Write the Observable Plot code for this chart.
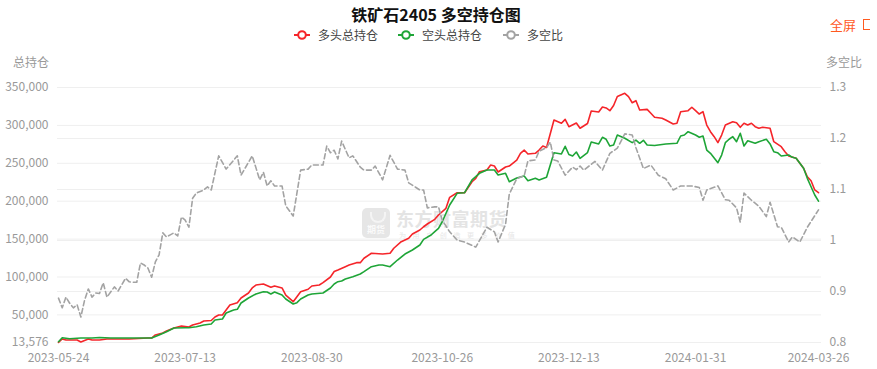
<!DOCTYPE html>
<html><head><meta charset="utf-8">
<script src="https://cdn.jsdelivr.net/npm/d3@7"></script>
<script src="https://cdn.jsdelivr.net/npm/@observablehq/plot@0.6"></script>
<style>
body{margin:0;background:#fff;font-family:"Microsoft YaHei","Noto Sans CJK SC",sans-serif;}
#wrap{position:relative;width:877px;height:369px;overflow:hidden;}
#chart{position:absolute;left:0;top:0;}
.t{position:absolute;white-space:nowrap;line-height:1;}
.c{transform:translate(-50%,-50%);}
.v{transform:translateY(-50%);}
.leg{display:flex;align-items:center;}
</style></head><body>
<div id="wrap">
  <div class="t" style="left:362px;top:208px;width:28px;height:30px;background:#e6e6e6;border-radius:5px;">
    <div style="position:absolute;left:8px;top:4px;width:12px;height:9px;border:2px solid #f4f4f4;border-top:none;border-radius:0 0 8px 8px;"></div>
    <div style="position:absolute;left:0;width:28px;top:17px;text-align:center;font-size:9px;color:#fafafa;font-weight:bold;">期货</div>
  </div>
  <div class="t v" style="left:396px;top:218px;font-size:18px;font-weight:bold;color:#e4e4e4;letter-spacing:0.5px;">东方财富期货</div>
  <div class="t v" style="left:399px;top:235px;font-size:7px;color:#e6e6e6;letter-spacing:6.6px;">为用户创造更多价值</div>
  <div id="chart"></div>
  <div class="t c" style="left:436px;top:14px;font-size:16px;font-weight:bold;color:#111;">铁矿石2405 多空持仓图</div>
  <div class="t v leg" style="left:294px;top:35px;font-size:12px;color:#444;" id="legend"></div>
  <div class="t v" style="left:830px;top:24px;font-size:13px;color:#ff5a1f;">全屏</div>
  <div class="t" style="left:863px;top:19px;width:6px;height:9px;border:1.5px solid #ff5a1f;border-right:none;"></div>
  <div class="t v" style="left:13px;top:62px;font-size:12px;color:#999;">总持仓</div>
  <div class="t v" style="left:826px;top:62px;font-size:12px;color:#999;">多空比</div>
</div>
<script>
// ---- data (day index = trading day since 2023-05-24) ----
const tickDays = [0, 34, 68, 103, 137, 171, 204];
const tickLabels = ["2023-05-24","2023-07-13","2023-08-30","2023-10-26","2023-12-13","2024-01-31","2024-03-26"];
const leftTicks = [13576, 50000, 100000, 150000, 200000, 250000, 300000, 350000];
const ratioTicks = [0.8, 0.9, 1.0, 1.1, 1.2, 1.3];
const seriesNames = ["多头总持仓", "空头总持仓", "多空比"];

const longPts = [[0,13576],[1,18200],[2,16900],[5,16900],[6,14200],[8,18200],[9,16900],[11,16900],[13,18200],[19,18200],[24,19500],[25,19500],[26,23500],[28,26100],[29,28700],[31,32700],[32,34000],[33,35300],[35,34000],[36,36700],[38,39300],[39,41900],[41,42600],[42,47200],[43,49900],[44,49900],[45,56500],[46,63000],[48,66100],[49,72300],[51,78900],[52,85500],[53,89400],[55,90800],[57,86400],[58,88100],[60,85500],[61,76200],[63,67400],[64,74000],[65,80600],[67,83800],[68,88100],[70,89400],[71,92500],[73,100000],[74,107200],[75,109200],[77,113600],[78,115800],[80,118900],[81,118900],[82,124700],[84,131300],[87,130300],[89,131300],[90,137900],[92,146600],[94,151000],[95,156700],[97,162000],[98,166300],[99,169900],[101,176100],[102,181800],[104,190600],[105,205100],[107,211200],[109,211200],[111,225700],[112,230200],[113,238900],[115,241200],[116,247800],[117,246400],[118,238500],[120,245100],[121,246400],[123,254300],[124,263200],[125,267500],[126,262300],[128,263200],[129,267500],[130,272800],[131,270800],[133,307100],[135,302800],[136,308000],[137,298300],[139,303200],[140,296200],[142,302500],[143,319000],[145,317700],[146,324300],[147,323000],[148,319400],[149,326200],[150,338100],[152,342300],[153,337900],[154,329900],[155,332600],[156,320300],[158,321200],[159,316000],[160,310700],[162,309400],[163,307100],[165,301800],[166,302800],[167,318100],[169,319400],[170,323900],[171,319400],[172,315000],[173,318100],[174,300500],[175,291700],[176,285100],[177,277200],[178,287300],[179,300500],[181,304900],[182,303600],[183,297500],[184,302800],[185,300500],[186,302800],[187,298300],[188,296200],[189,297500],[191,296200],[192,278500],[194,271900],[195,265300],[196,259600],[198,256600],[200,243400],[201,232300],[202,227000],[203,214800],[204,211200]];

const shortPts = [[0,14600],[1,19900],[3,18600],[6,19500],[9,19500],[11,20200],[14,19500],[19,19500],[25,19500],[27,23500],[29,27800],[31,32700],[34,33100],[35,33100],[37,34400],[39,36700],[41,38000],[42,43300],[44,44600],[45,52500],[47,56500],[48,57400],[49,65700],[51,72300],[53,77600],[55,80600],[56,80200],[57,77600],[58,80200],[60,76200],[61,71000],[63,64400],[64,66100],[65,71000],[67,76200],[68,77600],[71,78900],[73,85500],[74,90800],[75,93800],[76,94700],[77,97400],[79,100400],[81,103900],[82,107000],[84,113600],[86,115800],[87,115800],[89,113600],[91,122400],[93,130300],[95,135600],[97,142200],[98,149700],[100,155400],[101,159800],[102,164200],[103,172900],[105,195000],[107,210400],[109,211200],[111,228000],[112,232300],[113,236800],[115,241200],[117,241200],[118,234600],[120,236800],[121,225700],[123,230600],[125,233200],[126,227000],[128,230200],[129,228000],[131,231500],[133,264000],[135,262300],[136,272400],[137,261600],[138,259600],[139,264900],[140,256600],[142,264200],[143,278100],[145,275500],[146,284300],[147,281700],[148,272800],[149,274100],[150,287300],[152,283000],[154,277200],[155,280700],[156,276400],[157,280300],[158,274100],[160,273500],[163,275500],[166,276400],[167,286000],[168,287300],[169,291700],[171,287300],[172,284300],[173,286000],[174,267500],[175,263200],[177,250800],[178,260900],[179,277200],[180,281700],[181,285100],[182,278500],[183,289600],[184,272800],[185,279800],[187,276400],[188,278500],[190,281700],[191,275500],[192,265300],[193,264000],[194,259600],[196,260900],[197,257900],[198,256600],[200,243400],[201,230200],[202,219100],[203,208200],[204,200000]];

const ratioPts = [[0,0.887],[1,0.868],[2,0.889],[3,0.877],[4,0.868],[5,0.874],[6,0.850],[7,0.883],[8,0.905],[9,0.889],[10,0.897],[11,0.896],[12,0.917],[13,0.889],[14,0.899],[15,0.909],[16,0.901],[18,0.926],[19,0.919],[20,0.918],[21,0.918],[22,0.956],[23,0.952],[24,0.946],[25,0.928],[26,0.958],[27,0.972],[28,1.015],[29,1.007],[30,1.011],[31,1.015],[32,1.009],[33,1.046],[34,1.040],[35,1.026],[36,1.083],[37,1.093],[39,1.099],[40,1.105],[41,1.099],[43,1.166],[45,1.140],[48,1.166],[49,1.128],[52,1.166],[54,1.119],[55,1.134],[56,1.107],[57,1.117],[58,1.107],[60,1.107],[61,1.068],[63,1.048],[65,1.138],[67,1.140],[68,1.148],[71,1.148],[72,1.185],[73,1.172],[74,1.177],[75,1.160],[76,1.195],[78,1.162],[79,1.166],[81,1.144],[82,1.138],[84,1.138],[85,1.146],[87,1.119],[89,1.167],[91,1.140],[93,1.138],[94,1.113],[97,1.099],[98,1.099],[99,1.064],[101,1.066],[102,1.066],[103,1.040],[105,1.017],[107,1.001],[109,0.997],[112,0.987],[114,1.013],[115,1.026],[117,1.017],[118,0.997],[120,1.032],[121,1.091],[123,1.121],[125,1.127],[126,1.156],[128,1.158],[129,1.175],[131,1.182],[132,1.193],[133,1.158],[134,1.156],[136,1.128],[138,1.144],[139,1.139],[140,1.146],[141,1.138],[144,1.155],[146,1.138],[148,1.171],[150,1.181],[152,1.209],[154,1.207],[155,1.182],[157,1.141],[159,1.148],[161,1.128],[163,1.121],[165,1.099],[167,1.107],[170,1.107],[172,1.104],[173,1.079],[174,1.099],[177,1.107],[179,1.080],[180,1.079],[182,1.064],[183,1.036],[184,1.093],[186,1.079],[188,1.067],[190,1.047],[191,1.075],[193,1.027],[194,1.026],[196,0.997],[197,1.007],[199,0.997],[201,1.026],[204,1.060]];

const colors = ["#f5252a", "#1ea537", "#a3a3a3"];

// ---- scales ----
const lo = 13576, hi = 350000, rLo = 0.8, rHi = 1.3;
const toY = r => lo + (r - rLo) / (rHi - rLo) * (hi - lo);
const fromY = v => rLo + (v - lo) / (hi - lo) * (rHi - rLo);

const font = '"Microsoft YaHei","Noto Sans CJK SC",sans-serif';
const chart = Plot.plot({
  width: 877, height: 369,
  marginTop: 87, marginBottom: 27, marginLeft: 57, marginRight: 56,
  style: {background: "transparent", fontSize: "12px", fontFamily: font, color: "#999", overflow: "visible"},
  x: {type: "linear", domain: [0, 204], range: [58, 818]},
  y: {domain: [lo, hi]},
  marks: [
    Plot.ruleY(leftTicks, {stroke: "#efefef", strokeWidth: 1}),
    Plot.ruleY(ratioTicks.map(toY), {stroke: "#efefef", strokeWidth: 1}),
    Plot.axisY({anchor: "left", ticks: leftTicks, tickFormat: d3.format(","), tickSize: 0, tickPadding: 9, label: null}),
    Plot.axisY({anchor: "right", ticks: ratioTicks.map(toY), tickFormat: v => String(+fromY(v).toFixed(1)), tickSize: 0, tickPadding: 8, label: null}),
    Plot.axisX({ticks: tickDays, tickFormat: d => tickLabels[tickDays.indexOf(d)], tickSize: 0, tickPadding: 11, label: null}),
    Plot.line(longPts, {x: d => d[0], y: d => d[1], stroke: colors[0], strokeWidth: 1.6}),
    Plot.line(shortPts, {x: d => d[0], y: d => d[1], stroke: colors[1], strokeWidth: 1.6}),
    Plot.line(ratioPts, {x: d => d[0], y: d => toY(d[1]), stroke: colors[2], strokeWidth: 1.6, strokeDasharray: "5,3"})
  ]
});
document.getElementById("chart").appendChild(chart);

// ---- legend ----
const leg = document.getElementById("legend");
const gaps = [20, 21, 0];
seriesNames.forEach((name, i) => {
  const item = document.createElement("span");
  item.style.cssText = `display:inline-flex;align-items:center;margin-right:${gaps[i]}px;`;
  item.innerHTML = `<svg width="16" height="10" style="margin-right:8px"><line x1="0" y1="5" x2="16" y2="5" stroke="${colors[i]}" stroke-width="2"/><circle cx="8" cy="5" r="3.8" fill="#fff" stroke="${colors[i]}" stroke-width="2"/></svg><span>${name}</span>`;
  leg.appendChild(item);
});
</script>
</body></html>
